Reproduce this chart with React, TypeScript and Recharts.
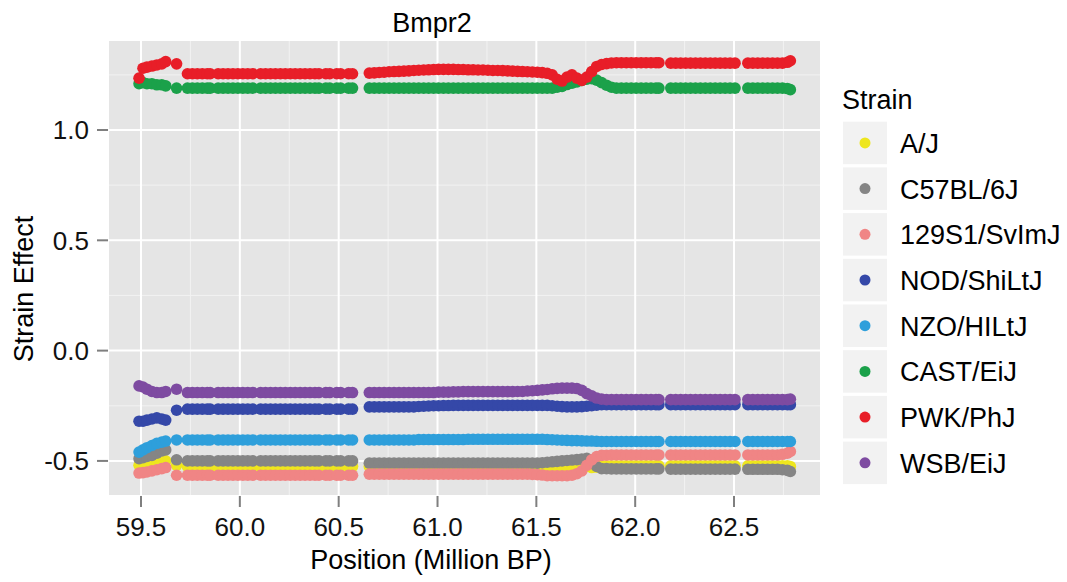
import { ScatterChart, Scatter, XAxis, YAxis, CartesianGrid } from 'recharts';

const FONT = '"Liberation Sans", Arial, Helvetica, sans-serif';

const STRAINS = ['A/J', 'C57BL/6J', '129S1/SvImJ', 'NOD/ShiLtJ', 'NZO/HILtJ', 'CAST/EiJ', 'PWK/PhJ', 'WSB/EiJ'];
const COLORS = ['#EEE61E', '#858585', '#F08585', '#3548A8', '#2E9FDB', '#1BA14A', '#E81E28', '#7E4BA1'];

const X_TICKS = [59.5, 60.0, 60.5, 61.0, 61.5, 62.0, 62.5];
const X_MINOR = [59.75, 60.25, 60.75, 61.25, 61.75, 62.25, 62.75];
const Y_TICKS = [-0.5, 0.0, 0.5, 1.0];
const Y_MINOR = [-0.25, 0.25, 0.75, 1.25];

// marker positions (Million BP)
const POSITIONS = [
  59.49, 59.51, 59.53, 59.555, 59.58, 59.605, 59.625, 59.68,
  59.735, 59.76, 59.785, 59.81, 59.835, 59.85,
  59.89, 59.915, 59.94, 59.965, 59.99, 60.015, 60.04, 60.065,
  60.105, 60.13, 60.155, 60.18, 60.205, 60.23, 60.255, 60.28, 60.305, 60.33, 60.355, 60.38, 60.4,
  60.435, 60.455, 60.49, 60.51, 60.55, 60.57,
  60.655, 60.68, 60.705, 60.73, 60.755, 60.78, 60.805, 60.83, 60.855, 60.88,
  60.905, 60.93, 60.955, 60.98, 61.005, 61.03, 61.055, 61.08, 61.105, 61.13,
  61.155, 61.18, 61.205, 61.23, 61.255, 61.28, 61.305, 61.33, 61.355, 61.38,
  61.405, 61.43, 61.455, 61.48, 61.505, 61.53, 61.555, 61.58, 61.605, 61.63,
  61.655, 61.68, 61.705, 61.73, 61.755, 61.78, 61.805, 61.83, 61.855, 61.88,
  61.905, 61.93, 61.955, 61.98, 62.005, 62.03, 62.055, 62.08, 62.105, 62.12,
  62.18, 62.205, 62.23, 62.255, 62.28, 62.305, 62.33, 62.355, 62.38, 62.405, 62.43, 62.455, 62.48, 62.505,
  62.57, 62.595, 62.62, 62.645, 62.67, 62.695, 62.72, 62.745, 62.77, 62.785,
];

const AJ = [
  -0.52, -0.515, -0.515, -0.51, -0.51, -0.505, -0.5, -0.52,
  -0.525, -0.525, -0.525, -0.525, -0.525, -0.525,
  -0.525, -0.525, -0.525, -0.525, -0.525, -0.525, -0.525, -0.525,
  -0.525, -0.525, -0.525, -0.525, -0.525, -0.525, -0.525, -0.525, -0.525, -0.525, -0.525, -0.525, -0.525,
  -0.525, -0.525, -0.525, -0.525, -0.525, -0.525,
  -0.525, -0.525, -0.525, -0.525, -0.525, -0.525, -0.525, -0.525, -0.525, -0.525,
  -0.525, -0.525, -0.525, -0.525, -0.525, -0.525, -0.525, -0.525, -0.525, -0.525,
  -0.525, -0.525, -0.525, -0.525, -0.525, -0.525, -0.525, -0.525, -0.525, -0.525,
  -0.525, -0.525, -0.525, -0.525, -0.525, -0.525, -0.525, -0.525, -0.525, -0.525,
  -0.525, -0.525, -0.525, -0.525, -0.525, -0.53, -0.528, -0.522, -0.522, -0.522,
  -0.522, -0.522, -0.522, -0.522, -0.522, -0.522, -0.522, -0.522, -0.522, -0.522,
  -0.522, -0.522, -0.522, -0.522, -0.522, -0.522, -0.522, -0.522, -0.522, -0.522, -0.522, -0.522, -0.522, -0.522,
  -0.522, -0.522, -0.522, -0.522, -0.522, -0.522, -0.522, -0.522, -0.522, -0.525,
];

const C57 = [
  -0.49, -0.485, -0.48, -0.475, -0.465, -0.455, -0.45, -0.495,
  -0.5, -0.5, -0.5, -0.5, -0.5, -0.5,
  -0.5, -0.5, -0.5, -0.5, -0.5, -0.5, -0.5, -0.5,
  -0.5, -0.5, -0.5, -0.5, -0.5, -0.5, -0.5, -0.5, -0.5, -0.5, -0.5, -0.5, -0.5,
  -0.5, -0.5, -0.5, -0.5, -0.5, -0.5,
  -0.51, -0.51, -0.51, -0.51, -0.51, -0.51, -0.51, -0.51, -0.51, -0.51,
  -0.51, -0.51, -0.51, -0.51, -0.51, -0.51, -0.51, -0.51, -0.51, -0.51,
  -0.51, -0.51, -0.51, -0.51, -0.51, -0.51, -0.51, -0.51, -0.51, -0.51,
  -0.51, -0.51, -0.51, -0.51, -0.51, -0.508, -0.506, -0.504, -0.502, -0.5,
  -0.498, -0.496, -0.494, -0.492, -0.488, -0.5, -0.525, -0.535, -0.535, -0.536,
  -0.536, -0.536, -0.536, -0.536, -0.536, -0.536, -0.536, -0.536, -0.536, -0.536,
  -0.537, -0.537, -0.537, -0.537, -0.537, -0.537, -0.537, -0.537, -0.537, -0.537, -0.537, -0.537, -0.537, -0.537,
  -0.538, -0.538, -0.538, -0.538, -0.538, -0.538, -0.538, -0.54, -0.543, -0.548,
];

const S129 = [
  -0.555, -0.553, -0.55, -0.545, -0.54, -0.535, -0.53, -0.565,
  -0.565, -0.565, -0.565, -0.565, -0.565, -0.565,
  -0.565, -0.565, -0.565, -0.565, -0.565, -0.565, -0.565, -0.565,
  -0.565, -0.565, -0.565, -0.565, -0.565, -0.565, -0.565, -0.565, -0.565, -0.565, -0.565, -0.565, -0.565,
  -0.565, -0.565, -0.565, -0.565, -0.565, -0.565,
  -0.56, -0.56, -0.56, -0.56, -0.56, -0.56, -0.56, -0.56, -0.56, -0.56,
  -0.56, -0.56, -0.56, -0.56, -0.56, -0.56, -0.56, -0.56, -0.56, -0.56,
  -0.56, -0.56, -0.56, -0.56, -0.56, -0.56, -0.56, -0.56, -0.56, -0.56,
  -0.56, -0.56, -0.56, -0.561, -0.562, -0.564, -0.567, -0.567, -0.567, -0.567,
  -0.567, -0.565, -0.558, -0.545, -0.52, -0.495, -0.48, -0.475, -0.474, -0.473,
  -0.473, -0.473, -0.473, -0.473, -0.473, -0.473, -0.473, -0.473, -0.473, -0.473,
  -0.473, -0.473, -0.473, -0.473, -0.473, -0.473, -0.473, -0.473, -0.473, -0.473, -0.473, -0.473, -0.473, -0.473,
  -0.473, -0.473, -0.473, -0.473, -0.473, -0.473, -0.473, -0.47, -0.465, -0.457,
];

const NOD = [
  -0.32, -0.32, -0.315, -0.31, -0.305, -0.31, -0.315, -0.27,
  -0.265, -0.265, -0.265, -0.265, -0.265, -0.265,
  -0.265, -0.265, -0.265, -0.265, -0.265, -0.265, -0.265, -0.265,
  -0.265, -0.265, -0.265, -0.265, -0.265, -0.265, -0.265, -0.265, -0.265, -0.265, -0.265, -0.265, -0.265,
  -0.265, -0.265, -0.265, -0.265, -0.265, -0.265,
  -0.255, -0.255, -0.255, -0.255, -0.255, -0.255, -0.255, -0.255, -0.255, -0.255,
  -0.253, -0.252, -0.251, -0.25, -0.25, -0.249, -0.249, -0.248, -0.248, -0.248,
  -0.248, -0.248, -0.248, -0.248, -0.248, -0.248, -0.248, -0.248, -0.248, -0.248,
  -0.248, -0.248, -0.248, -0.248, -0.248, -0.248, -0.248, -0.25, -0.252, -0.254,
  -0.255, -0.255, -0.255, -0.254, -0.252, -0.25, -0.247, -0.245, -0.245, -0.245,
  -0.245, -0.245, -0.245, -0.245, -0.245, -0.245, -0.245, -0.245, -0.245, -0.245,
  -0.245, -0.245, -0.245, -0.245, -0.245, -0.245, -0.245, -0.245, -0.245, -0.245, -0.245, -0.245, -0.245, -0.245,
  -0.245, -0.245, -0.245, -0.245, -0.245, -0.245, -0.245, -0.245, -0.245, -0.245,
];

const NZO = [
  -0.46, -0.45, -0.44, -0.43, -0.42, -0.415, -0.41, -0.405,
  -0.405, -0.405, -0.405, -0.405, -0.405, -0.405,
  -0.405, -0.405, -0.405, -0.405, -0.405, -0.405, -0.405, -0.405,
  -0.405, -0.405, -0.405, -0.405, -0.405, -0.405, -0.405, -0.405, -0.405, -0.405, -0.405, -0.405, -0.405,
  -0.405, -0.405, -0.405, -0.405, -0.405, -0.405,
  -0.405, -0.405, -0.405, -0.405, -0.405, -0.405, -0.405, -0.405, -0.405, -0.405,
  -0.403, -0.403, -0.403, -0.403, -0.403, -0.403, -0.403, -0.403, -0.403, -0.403,
  -0.402, -0.402, -0.402, -0.402, -0.402, -0.402, -0.402, -0.402, -0.402, -0.402,
  -0.402, -0.402, -0.402, -0.402, -0.402, -0.402, -0.403, -0.404, -0.405, -0.406,
  -0.407, -0.408, -0.408, -0.409, -0.41, -0.41, -0.411, -0.412, -0.412, -0.412,
  -0.412, -0.412, -0.412, -0.412, -0.412, -0.412, -0.412, -0.412, -0.412, -0.412,
  -0.412, -0.412, -0.412, -0.412, -0.412, -0.412, -0.412, -0.412, -0.412, -0.412, -0.412, -0.412, -0.412, -0.412,
  -0.412, -0.412, -0.412, -0.412, -0.412, -0.412, -0.412, -0.412, -0.412, -0.412,
];

const CAST = [
  1.21, 1.215, 1.21, 1.21, 1.205, 1.205, 1.2, 1.19,
  1.19, 1.19, 1.19, 1.19, 1.19, 1.19,
  1.19, 1.19, 1.19, 1.19, 1.19, 1.19, 1.19, 1.19,
  1.19, 1.19, 1.19, 1.19, 1.19, 1.19, 1.19, 1.19, 1.19, 1.19, 1.19, 1.19, 1.19,
  1.19, 1.19, 1.19, 1.19, 1.19, 1.19,
  1.19, 1.19, 1.19, 1.19, 1.19, 1.19, 1.19, 1.19, 1.19, 1.19,
  1.19, 1.19, 1.19, 1.19, 1.19, 1.19, 1.19, 1.19, 1.19, 1.19,
  1.19, 1.19, 1.19, 1.19, 1.19, 1.19, 1.19, 1.19, 1.19, 1.19,
  1.19, 1.19, 1.19, 1.19, 1.19, 1.19, 1.19, 1.19, 1.194, 1.198,
  1.206, 1.212, 1.218, 1.225, 1.23, 1.233, 1.226, 1.215, 1.203, 1.194,
  1.19, 1.19, 1.19, 1.19, 1.19, 1.19, 1.19, 1.19, 1.19, 1.19,
  1.19, 1.19, 1.19, 1.19, 1.19, 1.19, 1.19, 1.19, 1.19, 1.19, 1.19, 1.19, 1.19, 1.19,
  1.19, 1.19, 1.19, 1.19, 1.19, 1.19, 1.19, 1.19, 1.188, 1.183,
];

const PWK = [
  1.235, 1.28, 1.285, 1.29, 1.295, 1.3, 1.31, 1.3,
  1.255, 1.255, 1.255, 1.255, 1.255, 1.255,
  1.255, 1.255, 1.255, 1.255, 1.255, 1.255, 1.255, 1.255,
  1.255, 1.255, 1.255, 1.255, 1.255, 1.255, 1.255, 1.255, 1.255, 1.255, 1.255, 1.255, 1.255,
  1.255, 1.255, 1.255, 1.255, 1.255, 1.255,
  1.258, 1.259, 1.261, 1.262, 1.264, 1.265, 1.266, 1.267, 1.268, 1.27,
  1.271, 1.272, 1.273, 1.274, 1.275, 1.275, 1.275, 1.275, 1.274, 1.274,
  1.273, 1.273, 1.272, 1.272, 1.271, 1.27, 1.27, 1.269, 1.268, 1.267,
  1.266, 1.265, 1.264, 1.263, 1.262, 1.26, 1.257, 1.25, 1.23, 1.222,
  1.24, 1.25, 1.235, 1.225, 1.24, 1.265, 1.288, 1.297, 1.301, 1.304,
  1.305, 1.305, 1.305, 1.305, 1.305, 1.305, 1.305, 1.305, 1.305, 1.305,
  1.303, 1.303, 1.303, 1.303, 1.303, 1.303, 1.303, 1.303, 1.303, 1.303, 1.303, 1.303, 1.303, 1.303,
  1.303, 1.303, 1.303, 1.303, 1.303, 1.303, 1.303, 1.303, 1.307, 1.314,
];

const WSB = [
  -0.16, -0.165, -0.175, -0.185, -0.19, -0.19, -0.185, -0.175,
  -0.19, -0.19, -0.19, -0.19, -0.19, -0.19,
  -0.19, -0.19, -0.19, -0.19, -0.19, -0.19, -0.19, -0.19,
  -0.19, -0.19, -0.19, -0.19, -0.19, -0.19, -0.19, -0.19, -0.19, -0.19, -0.19, -0.19, -0.19,
  -0.19, -0.19, -0.19, -0.19, -0.19, -0.19,
  -0.19, -0.19, -0.19, -0.19, -0.19, -0.19, -0.19, -0.19, -0.19, -0.19,
  -0.19, -0.19, -0.19, -0.19, -0.188, -0.188, -0.188, -0.187, -0.187, -0.186,
  -0.186, -0.186, -0.186, -0.186, -0.186, -0.186, -0.186, -0.186, -0.186, -0.186,
  -0.185, -0.185, -0.183, -0.182, -0.18, -0.178, -0.176, -0.173, -0.171, -0.17,
  -0.17, -0.17, -0.172, -0.18, -0.195, -0.205, -0.215, -0.22, -0.222, -0.222,
  -0.222, -0.222, -0.222, -0.222, -0.222, -0.222, -0.222, -0.222, -0.222, -0.222,
  -0.222, -0.222, -0.222, -0.222, -0.222, -0.222, -0.222, -0.222, -0.222, -0.222, -0.222, -0.222, -0.222, -0.222,
  -0.222, -0.222, -0.222, -0.222, -0.222, -0.222, -0.222, -0.222, -0.222, -0.22,
];

const EFFECTS = [AJ, C57, S129, NOD, NZO, CAST, PWK, WSB];

const series = STRAINS.map((name, i) => ({
  name,
  color: COLORS[i],
  data: POSITIONS.map((x, j) => ({ x, y: EFFECTS[i][j] })),
}));

const dot = (color: string) => (p: any) => <circle cx={p.cx} cy={p.cy} r={5.8} fill={color} />;

const tickStyle = { fill: '#111', fontSize: 26, fontFamily: FONT };

export default function App() {
  return (
    <div style={{ position: 'absolute', left: 0, top: 0, width: 1067, height: 582, background: '#fff' }}>
      <ScatterChart width={1067} height={582} margin={{ top: 40, right: 246, bottom: 46, left: 0 }}>
        <CartesianGrid fill="#E5E5E5" stroke="#F2F2F2" strokeWidth={1} horizontalValues={Y_MINOR} verticalValues={X_MINOR} />
        <CartesianGrid stroke="#FFFFFF" strokeWidth={2} fill="none" />
        <XAxis
          type="number"
          dataKey="x"
          domain={[59.333, 62.94]}
          ticks={X_TICKS}
          interval={0}
          allowDataOverflow
          tickFormatter={(v: number) => v.toFixed(1)}
          axisLine={false}
          tickLine={{ stroke: '#7F7F7F', strokeWidth: 2 }}
          tickSize={11}
          tickMargin={11}
          tick={tickStyle}
          height={40}
        />
        <YAxis
          type="number"
          dataKey="y"
          domain={[-0.659, 1.408]}
          ticks={Y_TICKS}
          interval={0}
          allowDataOverflow
          tickFormatter={(v: number) => v.toFixed(1)}
          axisLine={false}
          tickLine={{ stroke: '#7F7F7F', strokeWidth: 2 }}
          tickSize={11}
          tickMargin={8}
          tick={tickStyle}
          width={108}
        />
        {series.map((s) => (
          <Scatter key={s.name} name={s.name} data={s.data} fill={s.color} shape={dot(s.color)} isAnimationActive={false} />
        ))}
      </ScatterChart>
      <svg width={1067} height={582} style={{ position: 'absolute', left: 0, top: 0, pointerEvents: 'none' }} fontFamily={FONT} fill="#000">
        <text x={432} y={32} fontSize={27} textAnchor="middle">Bmpr2</text>
        <text x={431} y={569} fontSize={27} textAnchor="middle">Position (Million BP)</text>
        <text transform="translate(33,289) rotate(-90)" fontSize={27} textAnchor="middle">Strain Effect</text>
        <text x={842} y={109} fontSize={27}>Strain</text>
        {series.map((s, i) => {
          const top = 121.7 + i * 45.7;
          const cy = top + 21.2;
          return (
            <g key={s.name}>
              <rect x={843} y={top} width={44} height={42.5} fill="#F2F2F2" />
              <circle cx={865} cy={cy} r={5.5} fill={s.color} />
              <text x={900} y={cy + 10} fontSize={27}>{s.name}</text>
            </g>
          );
        })}
      </svg>
    </div>
  );
}
